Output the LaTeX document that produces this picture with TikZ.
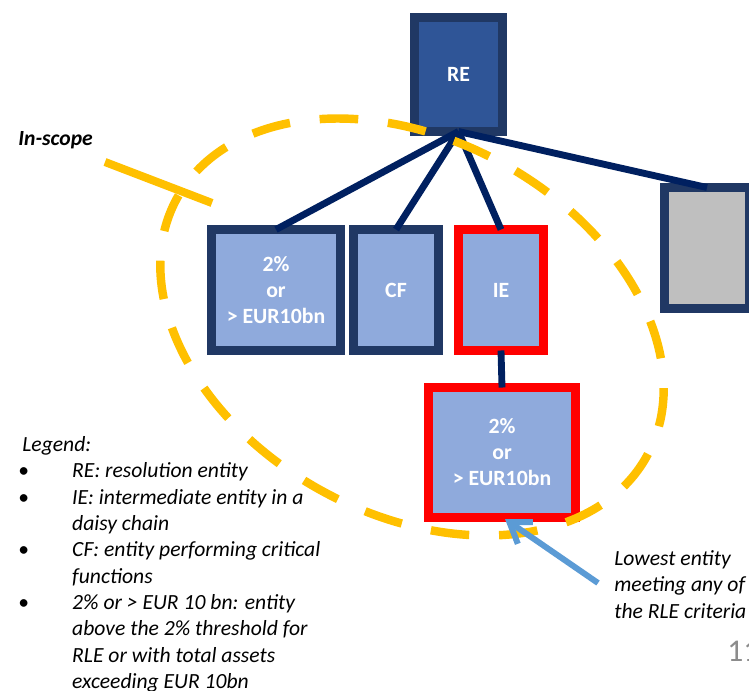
\documentclass[tikz,border=0pt]{standalone}
\usepackage{fontspec}
\setmainfont{Carlito}
\usetikzlibrary{arrows.meta, positioning, calc}
\definecolor{reblue}{HTML}{2F5597}
\definecolor{edgenavy}{HTML}{203864}
\definecolor{linknavy}{HTML}{002060}
\definecolor{lightblue}{HTML}{8FAADC}
\definecolor{greybox}{HTML}{BFBFBF}
\definecolor{scopeyellow}{HTML}{FFC000}
\definecolor{arrowblue}{HTML}{5B9BD5}
\definecolor{pagegrey}{HTML}{8C8C8C}
\newcommand{\legbullet}{\makebox[28.4pt][l]{\kern-2.2pt\upshape\textbullet}}
\tikzset{
  ent/.style={draw=edgenavy, line width=5.1pt, fill=lightblue, text=white, outer sep=0pt,
    inner sep=0pt, align=center, font=\bfseries\fontsize{12.4}{14.8}\selectfont},
  rle/.style={ent, draw=red},
  link/.style={draw=linknavy, line width=3.9pt},
  inscope/.style={draw=scopeyellow, line width=4.8pt, dash pattern=on 22pt off 17pt},
  note/.style={font=\itshape\fontsize{12.3}{15}\selectfont, align=left, inner sep=0pt, anchor=north west},
  pointer/.style={draw=arrowblue, line width=3.4pt, -{Straight Barb[length=11pt, width=15pt]}},
}

\begin{document}
\begin{tikzpicture}[x=0.02cm, y=-0.02cm]
  \useasboundingbox (0,0) rectangle (749,690);
  % entities
  \node[ent, fill=reblue, minimum width=1.76cm, minimum height=2.28cm] (re) at (458.5,74.5) {RE};
  \node[ent, minimum width=2.58cm, minimum height=2.42cm] (big) at (276,290) {2\%\\or\\> EUR10bn};
  \node[ent, minimum width=1.70cm, minimum height=2.42cm] (cf) at (396,290) {CF};
  \node[rle, minimum width=1.70cm, minimum height=2.42cm] (ie) at (501,290) {IE};
  \node[ent, fill=greybox, minimum width=1.70cm, minimum height=2.42cm] (other) at (707,248) {};
  \node[rle, minimum width=2.94cm, minimum height=2.60cm] (low) at (502,452.5) {2\%\\or\\> EUR10bn};
  % group links
  \draw[link] (re.south) -- (big.north);
  \draw[link] (re.south) -- (cf.north);
  \draw[link] (re.south) -- (ie.north);
  \draw[link] (re.south) -- (other.north);
  \draw[link] (ie.south) -- (low.north);
  % resolution group boundary
  \draw[inscope, rotate around={-28.7:(412,327)}] (412,327) ellipse [x radius=268, y radius=187];
  \node[note, font=\bfseries\itshape\fontsize{12.3}{15}\selectfont] (scopelabel) at (18,131) {In-scope};
  \coordinate (scopefrom) at (105,162);
  \coordinate (scopeto) at (212,203);
  \draw[draw=scopeyellow, line width=4.6pt] (scopefrom) -- (scopeto);
  % notes
  \node[note] (legend) at (22,432.5) {%
    \begin{tabular}{@{}l@{}l@{}}
      \multicolumn{2}{@{}l@{}}{Legend:}\\
      \legbullet & RE: resolution entity\\
      \legbullet & IE: intermediate entity in a\\
      & daisy chain\\
      \legbullet & CF: entity performing critical\\
      & functions\\
      \legbullet & 2\% or > EUR 10 bn: entity\\
      & above the 2\% threshold for\\
      & RLE or with total assets\\
      & exceeding EUR 10bn
    \end{tabular}};
  \node[note] (lowest) at (614,550) {Lowest entity\\meeting any of\\the RLE criteria};
  \coordinate (tail) at (598,583);
  \coordinate (hit) at (505,519);
  \draw[pointer] (tail) -- (hit);
  \node[note, font=\fontsize{18}{18}\selectfont, text=pagegrey] (pagenum) at (727,641) {11};
\end{tikzpicture}
\end{document}
